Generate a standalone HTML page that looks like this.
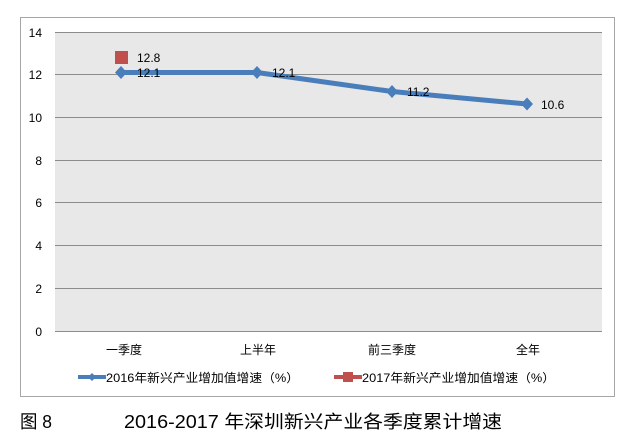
<!DOCTYPE html>
<html><head><meta charset="utf-8"><style>
body{margin:0;background:#fff;width:619px;height:436px;overflow:hidden}
text{font-family:"Liberation Sans","Noto Sans CJK SC",sans-serif}
</style></head><body>
<svg width="619" height="436" xmlns="http://www.w3.org/2000/svg">
<rect x="20.5" y="17.5" width="594" height="379" fill="#fff" stroke="#a6a6a6"/>
<rect x="55" y="32" width="547" height="299" fill="#e8e8e8"/>
<g stroke="#8c8c8c" stroke-width="1">
<line x1="55" x2="602" y1="32.5" y2="32.5"/>
<line x1="55" x2="602" y1="74.5" y2="74.5"/>
<line x1="55" x2="602" y1="117.5" y2="117.5"/>
<line x1="55" x2="602" y1="160.5" y2="160.5"/>
<line x1="55" x2="602" y1="202.5" y2="202.5"/>
<line x1="55" x2="602" y1="245.5" y2="245.5"/>
<line x1="55" x2="602" y1="288.5" y2="288.5"/>
<line x1="55" x2="602" y1="331.5" y2="331.5"/>
</g>
<g font-size="12" fill="#000" text-anchor="end">
<text x="42" y="37">14</text><text x="42" y="79">12</text><text x="42" y="122">10</text>
<text x="42" y="165">8</text><text x="42" y="207">6</text><text x="42" y="250">4</text>
<text x="42" y="293">2</text><text x="42" y="336">0</text>
</g>
<polyline points="121,72.5 257,72.5 392,91.5 527,104" fill="none" stroke="#4a7ebb" stroke-width="5" stroke-linejoin="round"/>
<g fill="#4a7ebb">
<polygon points="121,66 127,72.5 121,79 115,72.5"/>
<polygon points="257,66 263,72.5 257,79 251,72.5"/>
<polygon points="392,85 398,91.5 392,98 386,91.5"/>
<polygon points="527,97.5 533,104 527,110.5 521,104"/>
</g>
<rect x="115" y="51" width="13" height="13" fill="#c0504d"/>
<g font-size="12" fill="#000">
<text x="137" y="62">12.8</text>
<text x="137" y="77">12.1</text>
<text x="272" y="77">12.1</text>
<text x="407" y="96">11.2</text>
<text x="541" y="109">10.6</text>
</g>
<g font-size="12" fill="#000" text-anchor="middle">
<text x="124" y="354">一季度</text><text x="258" y="354">上半年</text>
<text x="392" y="354">前三季度</text><text x="528" y="354">全年</text>
</g>
<line x1="78" x2="106" y1="377" y2="377" stroke="#4a7ebb" stroke-width="4"/>
<polygon points="92,373 96,377 92,381 88,377" fill="#4a7ebb"/>
<text x="106" y="382" font-size="12" textLength="193" lengthAdjust="spacingAndGlyphs">2016年新兴产业增加值增速（%）</text>
<line x1="334" x2="362" y1="377" y2="377" stroke="#c0504d" stroke-width="4"/>
<rect x="343" y="372" width="10" height="10" fill="#c0504d"/>
<text x="362" y="382" font-size="12" textLength="193" lengthAdjust="spacingAndGlyphs">2017年新兴产业增加值增速（%）</text>
<text x="20" y="428" font-size="18" textLength="32" lengthAdjust="spacingAndGlyphs">图 8</text>
<text x="124" y="428" font-size="18" textLength="378" lengthAdjust="spacingAndGlyphs">2016-2017 年深圳新兴产业各季度累计增速</text>
</svg>
</body></html>
